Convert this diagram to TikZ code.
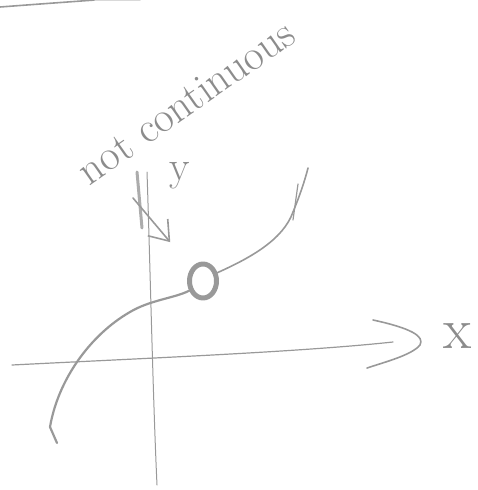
\documentclass[tikz,border=0pt]{standalone}
\usepackage{tikz}
\usetikzlibrary{arrows.meta, calc, shapes.geometric}

\begin{document}
\begin{tikzpicture}[x=1pt, y=-1pt, line cap=round, line join=round]
  % pencil look
  \tikzset{
    pencil/.style={draw=gray!80, line width=1.6pt},
    scribble/.style={text=gray!90, inner sep=0pt}
  }
  \useasboundingbox (0,0) rectangle (477,490);

  % stray stroke at the top edge
  \draw[pencil] (0,7) .. controls (40,4) .. (95,0);
  \draw[pencil, draw=gray!30] (95,0) -- (140,0);

  % x axis
  \coordinate (xstart) at (12,365);
  \coordinate (xend) at (393,342);
  \draw[pencil, line width=1.2pt] (xstart) .. controls (150,358) and (300,352) .. (xend);
  \draw[pencil] (373,320) .. controls (410,328) and (425,336) .. (420,345)
                .. controls (412,355) and (385,362) .. (367,368);
  \node[scribble, font=\fontsize{58}{58}\selectfont] (xlabel) at (458,336) {x};

  % y axis
  \coordinate (ybottom) at (157,485);
  \coordinate (ytop) at (147,172);
  \draw[pencil, line width=1pt] (ybottom) .. controls (153,400) and (150,260) .. (ytop);
  \draw[pencil, line width=3pt, draw=gray!65] (137,172) -- (142,228);
  \node[scribble, font=\fontsize{42}{42}\selectfont] (ylabel) at (180,176) {y};

  % open point
  \node[ellipse, draw=gray!80, line width=5pt, minimum width=27pt,
        minimum height=34pt, inner sep=0pt] (hole) at (203,281) {};

  % the function
  \draw[pencil] (hole.30) .. controls (250,258) and (283,240) .. (293,212)
                .. controls (300,195) and (305,180) .. (308,168);
  \draw[pencil, line width=1.2pt] (293,220) -- (298,184);
  \draw[pencil, line width=2.2pt] (hole.215) .. controls (175,298) and (150,300) .. (130,312)
                .. controls (90,335) and (58,380) .. (50,427) -- (57,443);

  % remark
  \node[scribble, rotate=35, font=\fontsize{43}{43}\selectfont] (remark) at (186,102) {not continuous};
  \coordinate (tail) at (133,198);
  \draw[pencil, -{Straight Barb[length=18pt, width=26pt]}, shorten >=33pt] (tail) -- (hole);
\end{tikzpicture}
\end{document}
